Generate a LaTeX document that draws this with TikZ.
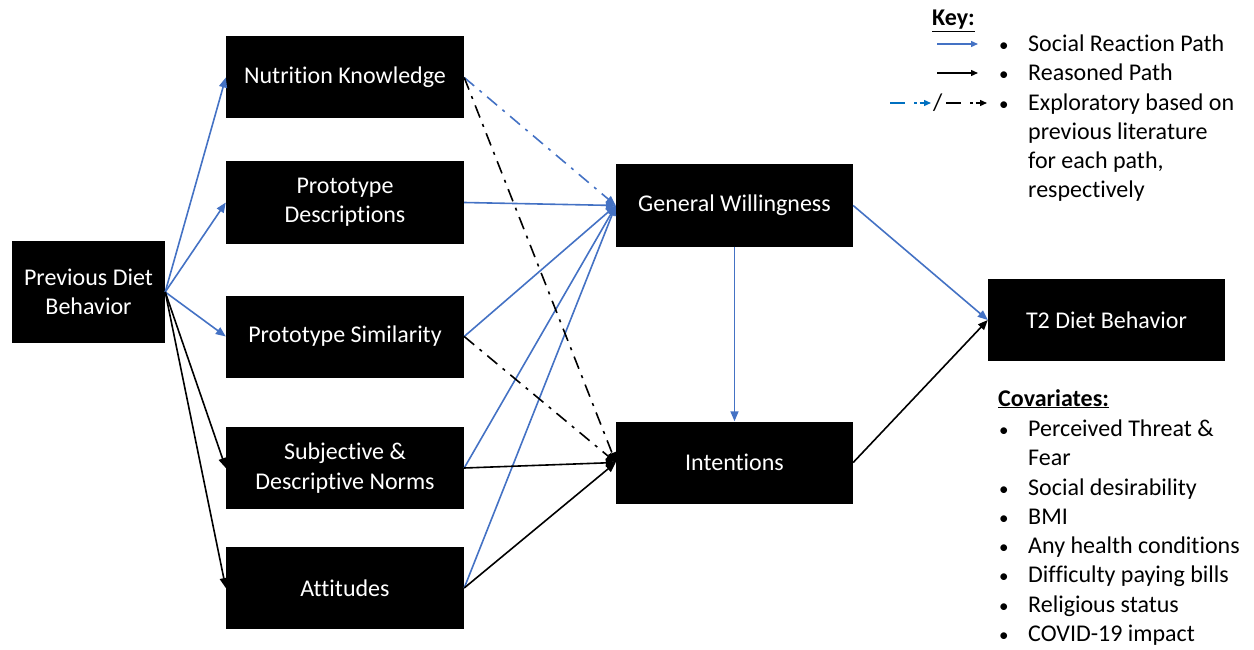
\documentclass[tikz,border=0pt]{standalone}
\usepackage{fontspec}
\setmainfont{Carlito}[Ligatures=NoCommon]
\usetikzlibrary{arrows.meta, positioning}

\definecolor{socialblue}{HTML}{4472C4}
\definecolor{keyblue}{HTML}{0070C0}

\tikzset{
  box/.style={fill=black, text=white, align=center, inner sep=2pt,
    minimum width=238pt, minimum height=82pt,
    font=\fontsize{24}{29.3}\selectfont},
  social/.style={socialblue, line width=1.6pt, -{Triangle[length=10pt,width=8pt]}},
  reasoned/.style={black, line width=1.6pt, -{Triangle[length=10pt,width=8pt]}},
  dashdot/.style={dash pattern=on 13pt off 7pt on 3pt off 7pt},
  keytext/.style={anchor=base west, inner sep=0pt,
    font=\fontsize{24}{29.3}\selectfont},
  keydot/.style={anchor=base west, inner sep=0pt,
    font=\fontsize{19}{24}\selectfont},
}

\begin{document}
\begin{tikzpicture}[x=1pt,y=-1pt]
\useasboundingbox (0,0) rectangle (1254,650);

% Boxes
\node[box, minimum width=153pt, minimum height=102pt] (prev) at (88.5,292) {Previous Diet\\Behavior};
\node[box] (know) at (345,77.5) {Nutrition Knowledge};
\node[box] (desc) at (345,202.5) {Prototype\\Descriptions};
\node[box] (sim) at (345,336.5) {Prototype Similarity};
\node[box] (norms) at (345,468) {Subjective \&\\Descriptive Norms};
\node[box] (att) at (345,588) {Attitudes};
\node[box, minimum width=237pt] (will) at (734.5,205.5) {General Willingness};
\node[box, minimum width=237pt] (int) at (734.5,462.5) {Intentions};
\node[box, minimum width=237pt] (t2) at (1106.5,320) {T2 Diet Behavior};

% Paths from previous behavior
\foreach \t in {know,desc,sim}
  \draw[social] (prev.east) -- (\t.west);
\foreach \t in {norms,att}
  \draw[reasoned] (prev.east) -- (\t.west);

% Paths to willingness and intentions
\foreach \s in {desc,sim,norms,att}
  \draw[social] (\s.east) -- (will.west);
\foreach \s in {norms,att}
  \draw[reasoned] (\s.east) -- (int.west);
\draw[social, dashdot] (know.east) -- (will.west);
\draw[reasoned, dashdot] (know.east) -- (int.west);
\draw[reasoned, dashdot] (sim.east) -- (int.west);
\draw[social] (will.south) -- (int.north);

% Paths to T2 behavior
\draw[social] (will.east) -- (t2.west);
\draw[reasoned] (int.east) -- (t2.west);

% Key
\node[keytext] (keyhead) at (932,26) {\underline{\textbf{Key:}}};
\coordinate (k1a) at (937,44);  \coordinate (k1b) at (978,44);
\coordinate (k2a) at (937,73);  \coordinate (k2b) at (978,73);
\coordinate (k3a) at (890,103); \coordinate (k3b) at (931,103);
\coordinate (k4a) at (946,103); \coordinate (k4b) at (987,103);
\draw[social, line width=1.3pt, -{Triangle[length=7pt,width=6pt]}] (k1a) -- (k1b);
\draw[reasoned, line width=1.3pt, -{Triangle[length=7pt,width=6pt]}] (k2a) -- (k2b);
\draw[keyblue, line width=1.3pt, dash pattern=on 15pt off 9pt on 2.5pt off 3pt, -{Triangle[length=7pt,width=6pt]}] (k3a) -- (k3b);
\node[keytext] (keyslash) at (933,111) {/};
\draw[black, line width=1.3pt, dash pattern=on 15pt off 9pt on 2.5pt off 3pt, -{Triangle[length=7pt,width=6pt]}] (k4a) -- (k4b);
\foreach \y/\name in {52/keysocial, 81/keyreason, 111/keyexplore}
  \node[keydot] (\name dot) at (999,\y) {\textbullet};
\foreach \y/\name/\txt in {52/keysocial/Social Reaction Path,
  81/keyreason/Reasoned Path,
  111/keyexplore/Exploratory based on,
  140/keyexplore2/previous literature,
  169/keyexplore3/{for each path,},
  198/keyexplore4/respectively}
  \node[keytext] (\name) at (1028,\y) {\txt};

% Covariates
\node[keytext] (covhead) at (998,406) {\underline{\textbf{Covariates:}}};
\foreach \y/\name in {436/threat, 495/desir, 524/bmi, 553/health, 582/bills, 612/relig, 641/covid}
  \node[keydot] (\name dot) at (999,\y) {\textbullet};
\foreach \y/\name/\txt in {436/threat/Perceived Threat \&,
  465/threat2/Fear,
  495/desir/Social desirability,
  524/bmi/BMI,
  553/health/Any health conditions,
  582/bills/Difficulty paying bills,
  612/relig/Religious status,
  641/covid/COVID-19 impact}
  \node[keytext] (\name) at (1028,\y) {\txt};

\end{tikzpicture}
\end{document}
